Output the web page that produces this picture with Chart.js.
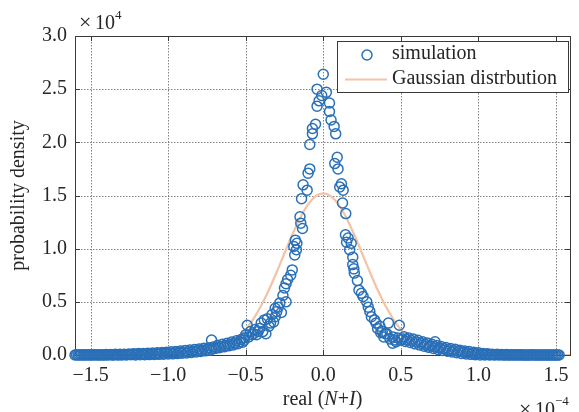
<!DOCTYPE html>
<html>
<head>
<meta charset="utf-8">
<script src="https://cdn.jsdelivr.net/npm/chart.js@4.4.1/dist/chart.umd.min.js"></script>
<style>
html,body{margin:0;padding:0;background:#fff;}
canvas{display:block;}
</style>
</head>
<body>
<canvas id="c" width="579" height="412"></canvas>
<script>
// ---- data (x in units of 1e-4, y in units of 1e4) ----
const xTicks = [-1.5, -1.0, -0.5, 0.0, 0.5, 1.0, 1.5];
const yTicks = [0.0, 0.5, 1.0, 1.5, 2.0, 2.5, 3.0];

const leftTailX = [
-1.60,-1.59,-1.58,-1.57,-1.56,-1.55,-1.54,-1.53,-1.52,-1.51,
-1.50,-1.49,-1.48,-1.47,-1.46,-1.45,-1.44,-1.43,-1.42,-1.41,
-1.40,-1.39,-1.38,-1.37,-1.36,-1.35,-1.34,-1.33,-1.32,-1.31,
-1.30,-1.29,-1.28,-1.27,-1.26,-1.25,-1.24,-1.23,-1.22,-1.21,
-1.20,-1.19,-1.18,-1.17,-1.16,-1.15,-1.14,-1.13,-1.12,-1.11,
-1.10,-1.09,-1.08,-1.07,-1.06,-1.05,-1.04,-1.03,-1.02,-1.01,
-1.00,-0.99,-0.98,-0.97,-0.96,-0.95,-0.94,-0.93,-0.92,-0.91,
-0.90,-0.89,-0.88,-0.87,-0.86,-0.85,-0.84,-0.83,-0.82,-0.81,
-0.80,-0.79,-0.78,-0.77,-0.76,-0.75,-0.74,-0.73,-0.72,-0.71,
-0.70,-0.69,-0.68,-0.67,-0.66,-0.65,-0.64,-0.63,-0.62,-0.61,
-0.60,-0.59,-0.58,-0.57,-0.56,-0.55,-0.54,-0.53,-0.52,-0.51];
const leftTailY = [
0.000,0.002,0.000,0.001,0.003,0.000,0.001,0.002,0.000,0.002,
0.000,0.001,0.003,0.000,0.002,0.001,0.000,0.003,0.001,0.000,
0.004,0.000,0.002,0.005,0.001,0.000,0.006,0.002,0.000,0.007,
0.001,0.004,0.008,0.000,0.005,0.010,0.002,0.006,0.011,0.001,
0.007,0.013,0.002,0.009,0.015,0.003,0.010,0.016,0.004,0.012,
0.019,0.005,0.013,0.021,0.006,0.015,0.024,0.007,0.017,0.027,
0.009,0.019,0.030,0.011,0.021,0.033,0.013,0.024,0.037,0.016,
0.027,0.042,0.019,0.031,0.046,0.023,0.035,0.051,0.028,0.040,
0.057,0.033,0.045,0.063,0.039,0.051,0.069,0.045,0.057,0.075,
0.060,0.072,0.092,0.068,0.080,0.100,0.077,0.090,0.110,0.086,
0.100,0.122,0.095,0.110,0.133,0.106,0.122,0.146,0.120,0.138];

const centerX = [-0.72,-0.51,-0.50,-0.49,-0.48,-0.47,-0.46,-0.45,-0.44,-0.43,-0.42,-0.41,-0.40,-0.39,-0.38,-0.37,-0.36,-0.35,-0.34,-0.33,-0.32,-0.31,-0.31,-0.30,-0.29,-0.28,-0.27,-0.26,-0.25,-0.24,-0.24,-0.23,-0.21,-0.20,-0.19,-0.184,-0.18,-0.173,-0.17,-0.15,-0.145,-0.14,-0.134,-0.13,-0.104,-0.098,-0.087,-0.087,-0.07,-0.07,-0.05,-0.04,-0.04,-0.027,-0.01,0.00,0.02,0.04,0.04,0.05,0.07,0.074,0.08,0.09,0.095,0.106,0.117,0.124,0.128,0.145,0.143,0.15,0.16,0.17,0.18,0.19,0.19,0.197,0.20,0.22,0.23,0.246,0.257,0.28,0.29,0.30,0.31,0.33,0.34,0.35,0.365,0.37,0.38,0.39,0.40,0.41,0.42,0.43,0.447,0.45,0.46,0.47,0.48,0.49,0.50,0.72];
const centerY = [0.14,0.16,0.19,0.28,0.17,0.22,0.19,0.20,0.24,0.19,0.22,0.25,0.30,0.22,0.33,0.20,0.34,0.27,0.30,0.38,0.31,0.44,0.36,0.41,0.45,0.49,0.40,0.56,0.63,0.50,0.67,0.71,0.75,0.80,1.02,0.94,1.08,0.99,1.05,1.30,1.24,1.47,1.19,1.60,1.55,1.71,1.75,1.98,2.08,2.13,2.17,2.34,2.50,2.39,2.44,2.64,2.47,2.37,2.29,2.21,2.15,1.80,2.08,1.86,1.75,1.58,1.61,1.43,1.55,1.33,1.13,1.06,1.10,0.99,1.05,0.92,0.85,0.81,0.77,0.70,0.61,0.58,0.55,0.50,0.45,0.41,0.36,0.33,0.30,0.25,0.27,0.21,0.22,0.17,0.20,0.20,0.30,0.15,0.11,0.17,0.14,0.125,0.16,0.28,0.14,0.125];

const rightTailX = [
0.51,0.52,0.53,0.54,0.55,0.56,0.57,0.58,0.59,0.60,
0.61,0.62,0.63,0.64,0.65,0.66,0.67,0.68,0.69,0.70,
0.71,0.72,0.73,0.74,0.75,0.76,0.77,0.78,0.79,0.80,
0.81,0.82,0.83,0.84,0.85,0.86,0.87,0.88,0.89,0.90,
0.91,0.92,0.93,0.94,0.95,0.96,0.97,0.98,0.99,1.00,
1.01,1.02,1.03,1.04,1.05,1.06,1.07,1.08,1.09,1.10,
1.11,1.12,1.13,1.14,1.15,1.16,1.17,1.18,1.19,1.20,
1.21,1.22,1.23,1.24,1.25,1.26,1.27,1.28,1.29,1.30,
1.31,1.32,1.33,1.34,1.35,1.36,1.37,1.38,1.39,1.40,
1.41,1.42,1.43,1.44,1.45,1.46,1.47,1.48,1.49,1.50,1.51,1.52];
const rightTailY = [
0.150,0.172,0.128,0.145,0.160,0.118,0.136,0.150,0.105,0.122,
0.138,0.094,0.110,0.125,0.083,0.098,0.112,0.072,0.088,0.100,
0.062,0.078,0.090,0.052,0.068,0.080,0.043,0.058,0.070,0.035,
0.050,0.061,0.028,0.042,0.053,0.021,0.035,0.045,0.015,0.028,
0.038,0.010,0.022,0.032,0.006,0.017,0.026,0.003,0.012,0.020,
0.001,0.009,0.015,0.000,0.006,0.011,0.000,0.004,0.008,0.000,
0.003,0.006,0.000,0.002,0.005,0.000,0.001,0.004,0.000,0.001,
0.003,0.000,0.001,0.002,0.000,0.000,0.002,0.000,0.001,0.000,
0.000,0.001,0.000,0.000,0.002,0.000,0.000,0.001,0.000,0.000,
0.001,0.000,0.000,0.001,0.000,0.000,0.000,0.001,0.000,0.000,0.001,0.000];

const gaussX = [-1.6,-1.2,-1.0,-0.9,-0.8,-0.75,-0.7,-0.65,-0.6,-0.55,-0.5,-0.45,-0.4,-0.35,-0.3,-0.25,-0.2,-0.15,-0.1,-0.05,0,0.05,0.1,0.15,0.2,0.25,0.3,0.35,0.4,0.45,0.5,0.55,0.6,0.65,0.7,0.75,0.8,0.9,1.0,1.2,1.59];
const gaussY = [0,0,0.001,0.004,0.013,0.024,0.041,0.067,0.106,0.162,0.239,0.340,0.465,0.614,0.781,0.957,1.131,1.287,1.412,1.492,1.520,1.492,1.412,1.287,1.131,0.957,0.781,0.614,0.465,0.340,0.239,0.162,0.106,0.067,0.041,0.024,0.013,0.004,0.001,0,0];

const seriesNames = ['simulation', 'Gaussian distrbution'];
const xLabelParts = [['real (', false], ['N', true], ['+', false], ['I', true], [')', false]];
const yLabel = 'probability density';

// ---- build ----
const toPts = (xs, ys) => xs.map((x, i) => ({x: x, y: ys[i]}));
const simPts = toPts(leftTailX, leftTailY).concat(toPts(centerX, centerY), toPts(rightTailX, rightTailY));
const gaussPts = toPts(gaussX, gaussY);

const FONT = "'Liberation Serif','Times New Roman',serif";
const BLUE = '#2a70b8';
const PEACH = '#f2c3a5';
const AXIS = '#3a3a3a';
const TXT = '#262626';

const fmt = v => (v < 0 ? '\u2212' : '') + Math.abs(v).toFixed(1);

const decor = {
  id: 'decor',
  beforeDatasetsDraw(chart) {
    const {ctx, chartArea: a, scales: {x, y}} = chart;
    ctx.save();
    ctx.strokeStyle = 'rgba(110,110,110,0.85)';
    ctx.lineWidth = 1;
    ctx.setLineDash([1.5, 1.5]);
    xTicks.forEach(v => {
      const px = Math.round(x.getPixelForValue(v)) + 0.5;
      ctx.beginPath(); ctx.moveTo(px, a.top); ctx.lineTo(px, a.bottom); ctx.stroke();
    });
    yTicks.forEach(v => {
      const py = Math.round(y.getPixelForValue(v)) + 0.5;
      ctx.beginPath(); ctx.moveTo(a.left, py); ctx.lineTo(a.right, py); ctx.stroke();
    });
    ctx.setLineDash([]);
    ctx.strokeStyle = AXIS;
    ctx.lineWidth = 1;
    ctx.strokeRect(Math.round(a.left) + 0.5, Math.round(a.top) + 0.5, Math.round(a.right - a.left), Math.round(a.bottom - a.top));
    const tl = 5;
    xTicks.forEach(v => {
      const px = Math.round(x.getPixelForValue(v)) + 0.5;
      ctx.beginPath(); ctx.moveTo(px, a.bottom); ctx.lineTo(px, a.bottom - tl); ctx.stroke();
      ctx.beginPath(); ctx.moveTo(px, a.top); ctx.lineTo(px, a.top + tl); ctx.stroke();
    });
    yTicks.forEach(v => {
      const py = Math.round(y.getPixelForValue(v)) + 0.5;
      ctx.beginPath(); ctx.moveTo(a.left, py); ctx.lineTo(a.left + tl, py); ctx.stroke();
      ctx.beginPath(); ctx.moveTo(a.right, py); ctx.lineTo(a.right - tl, py); ctx.stroke();
    });
    ctx.restore();
  },
  afterDraw(chart) {
    const {ctx, chartArea: a} = chart;
    ctx.save();
    ctx.fillStyle = TXT;
    ctx.textBaseline = 'alphabetic';
    ctx.textAlign = 'left';
    // exponent top-left
    ctx.font = '22px ' + FONT;
    ctx.fillText('\u00d7', 79, 29);
    ctx.font = '20px ' + FONT;
    ctx.fillText('10', 95, 29);
    ctx.font = '13px ' + FONT;
    ctx.fillText('4', 115, 19);
    // exponent bottom-right
    ctx.font = '22px ' + FONT;
    ctx.fillText('\u00d7', 519, 416);
    ctx.font = '20px ' + FONT;
    ctx.fillText('10', 535, 416);
    ctx.font = '13px ' + FONT;
    ctx.fillText('\u22124', 555, 405);
    // x label
    let total = 0;
    xLabelParts.forEach(([t, it]) => { ctx.font = (it ? 'italic ' : '') + '20px ' + FONT; total += ctx.measureText(t).width; });
    let cx = (a.left + a.right) / 2 - total / 2;
    xLabelParts.forEach(([t, it]) => {
      ctx.font = (it ? 'italic ' : '') + '20px ' + FONT;
      ctx.fillText(t, cx, 405);
      cx += ctx.measureText(t).width;
    });
    // y label
    ctx.save();
    ctx.translate(24, (a.top + a.bottom) / 2);
    ctx.rotate(-Math.PI / 2);
    ctx.textAlign = 'center';
    ctx.font = '20px ' + FONT;
    ctx.fillText(yLabel, 0, 0);
    ctx.restore();
    // legend
    const L = 337.5, T = 41.5, W = 231, H = 51;
    ctx.fillStyle = '#fff';
    ctx.fillRect(L, T, W, H);
    ctx.strokeStyle = AXIS;
    ctx.lineWidth = 1;
    ctx.strokeRect(L, T, W, H);
    ctx.strokeStyle = BLUE;
    ctx.lineWidth = 1.5;
    ctx.beginPath(); ctx.arc(367, 55, 5, 0, Math.PI * 2); ctx.stroke();
    ctx.strokeStyle = PEACH;
    ctx.lineWidth = 2.2;
    ctx.beginPath(); ctx.moveTo(345, 79.5); ctx.lineTo(387, 79.5); ctx.stroke();
    ctx.fillStyle = TXT;
    ctx.font = '20px ' + FONT;
    ctx.textAlign = 'left';
    ctx.textBaseline = 'middle';
    ctx.fillText(seriesNames[0], 392, 54);
    ctx.fillText(seriesNames[1], 392, 79);
    ctx.restore();
  }
};

new Chart(document.getElementById('c'), {
  type: 'scatter',
  data: {
    datasets: [
      {
        label: seriesNames[0],
        data: simPts,
        showLine: false,
        pointStyle: 'circle',
        pointRadius: 5,
        pointBorderWidth: 1.5,
        borderColor: BLUE,
        pointBorderColor: BLUE,
        backgroundColor: 'rgba(0,0,0,0)',
        pointBackgroundColor: 'rgba(0,0,0,0)',
        clip: false,
        order: 1
      },
      {
        label: seriesNames[1],
        type: 'line',
        data: gaussPts,
        borderColor: PEACH,
        borderWidth: 2.2,
        pointRadius: 0,
        fill: false,
        cubicInterpolationMode: 'monotone',
        order: 2
      }
    ]
  },
  options: {
    responsive: false,
    animation: false,
    devicePixelRatio: 1,
    layout: {padding: {top: 36, right: 9, left: 0, bottom: 0}},
    plugins: {legend: {display: false}, tooltip: {enabled: false}},
    scales: {
      x: {
        type: 'linear',
        min: -1.6, max: 1.59,
        afterBuildTicks: s => { s.ticks = xTicks.map(v => ({value: v})); },
        afterFit: s => { s.height = 57; },
        grid: {display: false, drawTicks: false},
        border: {display: false},
        ticks: {padding: 9, color: TXT, font: {family: FONT, size: 20}, maxRotation: 0, autoSkip: false, callback: v => fmt(v)}
      },
      y: {
        type: 'linear',
        min: 0, max: 3.0,
        afterBuildTicks: s => { s.ticks = yTicks.map(v => ({value: v})); },
        afterFit: s => { s.width = 75; },
        grid: {display: false, drawTicks: false},
        border: {display: false},
        ticks: {padding: 8, color: TXT, font: {family: FONT, size: 20}, autoSkip: false, callback: v => fmt(v)}
      }
    }
  },
  plugins: [decor]
});
</script>
</body>
</html>
